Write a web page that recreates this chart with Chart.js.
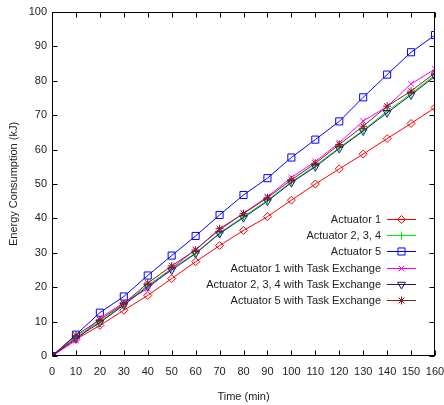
<!DOCTYPE html>
<html>
<head>
<meta charset="utf-8">
<script src="https://cdn.jsdelivr.net/npm/chart.js@4/dist/chart.umd.min.js"></script>
<style>
html,body{margin:0;padding:0;background:#fff;}
#wrap{position:relative;width:444px;height:405px;}
</style>
</head>
<body>
<div id="wrap"><canvas id="chart"></canvas></div>
<script>
// values
const times = [0,10,20,30,40,50,60,70,80,90,100,110,120,130,140,150,160];
const act1     = [0,4.8,8.9,13.3,17.6,22.5,27.4,32.1,36.5,40.5,45.3,50.0,54.4,58.7,63.2,67.6,72.2];
const act234   = [0,5.6,10.0,15.0,20.6,25.4,29.9,35.8,40.5,45.3,50.6,55.3,60.6,65.6,71.2,76.3,81.7];
const act5     = [0,6.2,12.6,17.3,23.4,29.2,34.9,41.0,46.8,51.7,57.7,62.9,68.2,75.2,81.8,88.3,93.3];
const act1TE   = [0,4.5,11.0,15.5,19.6,25.5,31.0,36.6,41.5,46.3,51.9,56.5,62.0,68.3,72.5,79.1,83.4];
const act234TE = [0,5.2,9.7,14.8,20.2,25.0,29.8,35.6,40.2,45.0,50.4,55.0,60.3,65.4,70.7,75.9,81.3];
const act5TE   = [0,6.0,10.5,15.2,21.2,26.2,30.8,37.0,41.4,46.0,51.2,56.0,61.5,66.8,72.6,77.0,82.3];

const names = ['Actuator 1','Actuator 2, 3, 4','Actuator 5','Actuator 1 with Task Exchange','Actuator 2, 3, 4 with Task Exchange','Actuator 5 with Task Exchange'];
const values = [act1, act234, act5, act1TE, act234TE, act5TE];
const colors = ['#ff0000','#00ee00','#0000ff','#ff00ff','#1a1a80','#8b1a1a'];
const styles = ['rectRot','cross','rect','crossRot','triangle','star'];
const radii = [4,4,5,4,4.5,4];
const rotations = [0,0,0,0,180,0];

Chart.defaults.font.family = '"Liberation Sans", Arial, Helvetica, sans-serif';
Chart.defaults.font.size = 11;
Chart.defaults.color = '#222';

const datasets = values.map((v,i)=>({
  label: names[i],
  data: times.map((t,k)=>({x:t, y:v[k]})),
  borderColor: colors[i],
  backgroundColor: 'rgba(0,0,0,0)',
  borderWidth: 1,
  pointStyle: styles[i],
  pointRadius: radii[i],
  pointRotation: rotations[i],
  pointBorderWidth: 1,
  pointBorderColor: colors[i],
  pointBackgroundColor: 'rgba(0,0,0,0)',
  order: values.length - i,
  tension: 0
}));

// gnuplot style frame with inward ticks, and the legend inside the plot
const frame = {
  id: 'frame',
  afterDatasetsDraw(chart) {
    const {ctx, chartArea:a, scales:{x,y}} = chart;
    const L = Math.round(a.left)+0.5, R = Math.round(a.right)-0.5, T = Math.round(a.top)+0.5, B = Math.round(a.bottom)-0.5;
    ctx.save();
    ctx.strokeStyle = '#000';
    ctx.lineWidth = 1;
    ctx.beginPath();
    y.ticks.forEach(t=>{
      const p = Math.round(y.getPixelForValue(t.value))+0.5;
      ctx.moveTo(L,p); ctx.lineTo(L+5,p);
      ctx.moveTo(R,p); ctx.lineTo(R-5,p);
    });
    x.ticks.forEach(t=>{
      const p = Math.round(x.getPixelForValue(t.value))+0.5;
      ctx.moveTo(p,B); ctx.lineTo(p,B-5);
      ctx.moveTo(p,T); ctx.lineTo(p,T+5);
    });
    ctx.stroke();
    ctx.strokeRect(L, T, R-L, B-T);
    ctx.restore();
  },
  afterDraw(chart) {
    const ctx = chart.ctx;
    const textRight = 381, x0 = 387, x1 = 416, top = 219, step = 16.2;
    ctx.save();
    ctx.font = '11px "Liberation Sans", Arial, sans-serif';
    ctx.textAlign = 'right';
    ctx.textBaseline = 'middle';
    chart.data.datasets.forEach((ds,i)=>{
      const yy = Math.round(top + i*step) + 0.5;
      ctx.fillStyle = '#222';
      ctx.fillText(ds.label, textRight, yy);
      ctx.strokeStyle = ds.borderColor;
      ctx.lineWidth = 1;
      ctx.beginPath(); ctx.moveTo(x0,yy); ctx.lineTo(x1,yy); ctx.stroke();
      ctx.strokeStyle = ds.borderColor;
      ctx.fillStyle = 'rgba(0,0,0,0)';
      Chart.helpers.drawPoint(ctx, {pointStyle: ds.pointStyle, radius: ds.pointRadius, rotation: ds.pointRotation, borderWidth: 1}, (x0+x1)/2, yy);
    });
    ctx.restore();
  }
};

new Chart(document.getElementById('chart'), {
  type: 'line',
  data: {datasets},
  options: {
    responsive: true,
    maintainAspectRatio: false,
    animation: false,
    layout: {padding: {top: 12, right: 0, left: 0, bottom: 0}},
    plugins: {legend: {display: false}, tooltip: {enabled: false}},
    scales: {
      x: {
        type: 'linear', min: 0, max: 160,
        grid: {display: false, drawTicks: false},
        border: {display: false},
        ticks: {stepSize: 10, padding: 9, maxRotation: 0, autoSkip: false},
        title: {display: true, text: 'Time (min)', padding: {top: 0, bottom: 1.5}},
        afterFit: s => { s.height = 49; s.paddingRight = 9; s.paddingLeft = 0; }
      },
      y: {
        type: 'linear', min: 0, max: 100,
        grid: {display: false, drawTicks: false},
        border: {display: false},
        ticks: {stepSize: 10, padding: 5},
        title: {display: true, text: 'Energy Consumption (kJ)', padding: {top: 7.5, bottom: 0}},
        afterFit: s => { s.width = 52; }
      }
    }
  },
  plugins: [frame]
});
</script>
</body>
</html>
